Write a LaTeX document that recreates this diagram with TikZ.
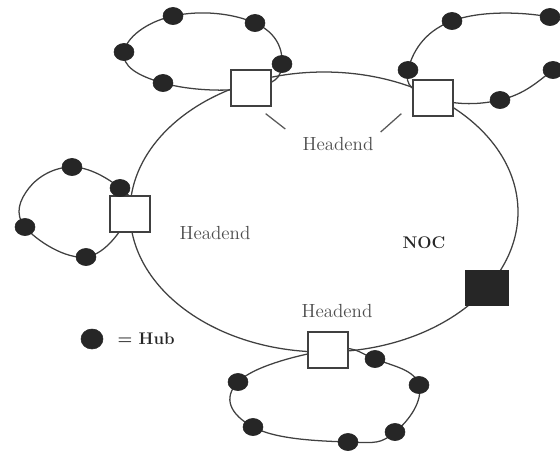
\documentclass[tikz,border=0pt]{standalone}
\usepackage{tikz}
\usetikzlibrary{positioning,shapes.geometric,backgrounds}

\begin{document}
\begin{tikzpicture}[x=0.025cm, y=0.025cm,
  loop/.style={line width=0.9pt, black!75},
  hub/.style={ellipse, draw=black!85, fill=black!85, minimum width=5mm, minimum height=4.3mm, inner sep=0pt},
  headend/.style={draw=black!75, line width=0.9pt, fill=white, minimum width=10mm, minimum height=9mm, inner sep=0pt},
  noc/.style={headend, draw=black!85, fill=black!85, minimum width=10.5mm, minimum height=8.8mm},
  lbl/.style={font=\fontsize{13.5}{16}\selectfont, text=black!70, inner sep=0pt},
  leader/.style={line width=0.9pt, black!65}]
\useasboundingbox (0,0) rectangle (560,-450);
% ---- headends and NOC on the main loop ----
\coordinate (ctr) at (324,-212);
\node[headend] (hT) at (251,-88) {};
\node[headend] (hR) at (433,-98) {};
\node[headend] (hL) at (130,-214) {};
\node[headend] (hB) at (328,-350) {};
\node[noc] (noc) at (487,-288) {};
% ---- hubs, top-left ring ----
\node[hub] (h1a) at (124,-52) {};
\node[hub] (h1b) at (173,-16) {};
\node[hub] (h1c) at (255,-23) {};
\node[hub] (h1d) at (282,-64) {};
\node[hub] (h1e) at (163,-83) {};
% ---- hubs, top-right ring ----
\node[hub] (h2a) at (408,-70) {};
\node[hub] (h2b) at (452,-21) {};
\node[hub] (h2c) at (550,-17) {};
\coordinate (r2) at (574,-44);
\node[hub] (h2d) at (553,-70) {};
\node[hub] (h2e) at (500,-100) {};
% ---- hubs, left ring ----
\node[hub] (h3a) at (72,-167) {};
\node[hub] (h3b) at (120,-188) {};
\node[hub] (h3c) at (86,-257) {};
\node[hub] (h3d) at (25,-227) {};
\coordinate (r3) at (29,-188);
% ---- hubs, bottom ring ----
\node[hub] (h4a) at (375,-359) {};
\node[hub] (h4b) at (419,-385) {};
\node[hub] (h4c) at (395,-432) {};
\node[hub] (h4d) at (348,-442) {};
\node[hub] (h4e) at (253,-427) {};
\node[hub] (h4f) at (238,-382) {};
% ---- rings (behind the boxes and hubs) ----
\begin{scope}[on background layer]
\draw[loop] (ctr) ellipse [x radius=194, y radius=140];
\draw[loop] plot[smooth cycle, tension=0.75] coordinates {(h1a) (h1b) (h1c) (h1d) (hT) (h1e)};
\draw[loop] plot[smooth cycle, tension=0.75] coordinates {(h2a) (h2b) (h2c) (r2) (h2d) (h2e) (hR)};
\draw[loop] plot[smooth cycle, tension=0.7] coordinates {(h3a) (h3b) (hL) (h3c) (h3d) (r3)};
\draw[loop] plot[smooth cycle, tension=0.75] coordinates {(hB) (h4a) (h4b) (h4c) (h4d) (h4e) (h4f)};
\end{scope}
% ---- labels ----
\node[lbl] (lblT) at (338,-144) {Headend};
\node[lbl] (lblL) at (215,-233) {Headend};
\node[lbl] (lblB) at (337,-311) {Headend};
\node[lbl, text=black!85, font=\fontsize{12}{14}\selectfont\bfseries] (lblN) at (424,-243) {NOC};
\draw[leader] ([shift={(-6,-7)}]hT.south east) -- ([shift={(-17,8)}]lblT.north west);
\draw[leader] ([shift={(-11,3)}]hR.south west) -- ([shift={(7,5)}]lblT.north east);
% ---- legend ----
\node[hub, minimum width=5.5mm, minimum height=5mm] (lgHub) at (92,-339) {};
\node[lbl, text=black!85, font=\fontsize{12}{14}\selectfont\bfseries, right=3.5mm of lgHub] (lgTxt) {= Hub};
\end{tikzpicture}
\end{document}
